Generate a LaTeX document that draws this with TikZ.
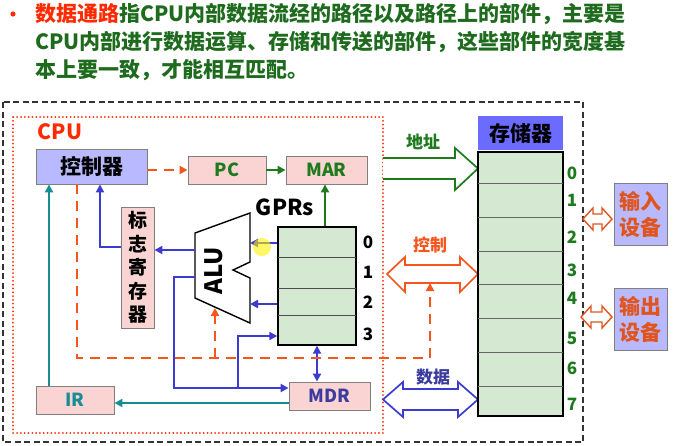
\documentclass[tikz,border=0pt]{standalone}
\usepackage{fontspec}
\setmainfont{Noto Sans CJK SC}
\usetikzlibrary{arrows.meta}
\definecolor{tgreen}{HTML}{1E6B1E}
\definecolor{cpured}{HTML}{FF2A00}
\definecolor{corange}{HTML}{F4561E}
\definecolor{ioorange}{HTML}{E0541E}
\definecolor{lblue}{HTML}{3B3BCF}
\definecolor{dblue}{HTML}{3C3C9E}
\definecolor{teal2}{HTML}{168C94}
\definecolor{agreen}{HTML}{1D7A1D}
\definecolor{pinkfill}{HTML}{FAD4D2}
\definecolor{lgreen}{HTML}{D4E8D2}
\definecolor{ctrlfill}{HTML}{B9B9FF}
\definecolor{memfill}{HTML}{6B6BFF}
\newcommand\myfs[1]{\fontsize{#1}{#1}\selectfont}
\begin{document}
\begin{tikzpicture}[x=1pt,y=-1pt,font=\bfseries,
  box/.style={draw=black!50, line width=0.9pt, inner sep=0pt},
  pinkbox/.style={box, fill=pinkfill, minimum height=28pt, font=\bfseries\myfs{18}},
  tip/.style={-{Triangle[length=8pt,width=8pt]}},
  conn/.style={line width=2.6pt, tip},
  bl/.style={conn, draw=lblue},
  tl/.style={conn, draw=teal2},
  gl/.style={conn, draw=agreen},
  od/.style={conn, draw=corange, dash pattern=on 10pt off 7pt},
  bus/.style={line width=1.7pt, fill=white, line join=miter},
  lab/.style={font=\bfseries\myfs{17}, inner sep=0pt},
  title/.style={anchor=west, inner sep=0pt, text=tgreen, font=\bfseries\myfs{21}}
]
\useasboundingbox (0,0) rectangle (693,445);

% title
\fill[cpured] (13,14) circle (2.6) coordinate (bul);
\node[title] (t1) at (35,14) {\textcolor{cpured}{数据通路}指CPU内部数据流经的路径以及路径上的部件，主要是};
\node[title] (t2) at (35,42) {CPU内部进行数据运算、存储和传送的部件，这些部件的宽度基};
\node[title] (t3) at (35,70) {本上要一致，才能相互匹配。};

% frames
\draw[black!80, line width=1.1pt, dash pattern=on 6pt off 3.5pt] (3,102) rectangle (583,442);
\draw[cpured, line width=2pt, dash pattern=on 0.01pt off 3.8pt, line cap=round] (13,117) rectangle (383,433);
\node[text=cpured, font=\bfseries\myfs{21}, inner sep=0pt] (cpu) at (60,132) {CPU};

% boxes
\node[box, fill=ctrlfill, minimum width=111pt, minimum height=35pt, font=\bfseries\myfs{21}] (ctrl) at (91.5,166.5) {控制器};
\node[pinkbox, minimum width=78pt, text=agreen] (pc) at (227,170) {PC};
\node[pinkbox, minimum width=81pt, text=agreen] (mar) at (326.5,170) {MAR};
\node[box, fill=pinkfill, minimum width=33pt, minimum height=121pt, align=center, font=\bfseries\fontsize{19}{23.5}\selectfont] (flag) at (137.5,267.5) {标\\志\\寄\\存\\器};
\node[pinkbox, minimum width=78pt, text=teal2] (ir) at (75,400) {IR};
\node[pinkbox, minimum width=81pt, text=dblue] (mdr) at (329.5,396) {MDR};

% GPRs
\node[draw=black, line width=1.4pt, fill=lgreen, minimum width=78pt, minimum height=118pt, inner sep=0pt] (gpr) at (317,286) {};
\foreach \yy in {257,288,315} \draw[black!70, line width=0.8pt] (278,\yy) -- (356,\yy);
\node[font=\bfseries\myfs{22}, inner sep=0pt] (gprl) at (285,207) {GPRs};
\foreach \n/\yy in {0/242,1/272,2/302,3/334} \node[lab] (g\n) at (368,\yy) {\n};

% ALU
\coordinate (a1) at (195,233);
\coordinate (a2) at (250,213);
\coordinate (a3) at (250,262);
\coordinate (a4) at (233,270);
\coordinate (a5) at (250,278);
\coordinate (a6) at (250,323);
\coordinate (a7) at (195,298);
\draw[line width=1.4pt, fill=white, line join=miter] (a1)--(a2)--(a3)--(a4)--(a5)--(a6)--(a7)--cycle;
\node[rotate=90, font=\bfseries\myfs{24}, inner sep=0pt] (alu) at (214,271) {ALU};

% memory
\node[fill=memfill, minimum width=85pt, minimum height=34pt, inner sep=0pt, font=\bfseries\myfs{21}] (meml) at (520.5,133) {存储器};

% buses (drawn before memory)
\draw[bus, draw=agreen] (383,158) -- (455,158) -- (455,148) -- (478,168.5) -- (455,190) -- (455,179) -- (383,179);
\node[lab, text=agreen] (addr) at (423,142) {地址};
\draw[bus, draw=corange] (387,274) -- (405,257) -- (405,265) -- (460,265) -- (460,257) -- (478,274) -- (460,292) -- (460,283) -- (405,283) -- (405,292) -- cycle;
\node[lab, text=corange] (ctl) at (430,245) {控制};
\draw[bus, draw=lblue] (383,399.5) -- (403,382) -- (403,389) -- (458,389) -- (458,382) -- (478,399.5) -- (458,417) -- (458,410) -- (403,410) -- (403,417) -- cycle;
\node[lab, text=dblue] (dat) at (433,377) {数据};

\node[draw=black, line width=1.8pt, fill=lgreen, minimum width=85pt, minimum height=264pt, inner sep=0pt] (mem) at (520.5,284) {};
\foreach \yy in {183,217,251,284,318,352,386} \draw[black!60, line width=0.8pt] (478,\yy) -- (563,\yy);
\foreach \n/\yy in {0/173,1/200,2/237,3/270,4/298,5/338,6/368,7/404} \node[lab, text=agreen] (m\n) at (572,\yy) {\n};

% IO devices
\node[box, fill=ctrlfill, minimum width=53pt, minimum height=62pt, align=center, text=ioorange, font=\bfseries\fontsize{21}{26}\selectfont] (inp) at (640.5,214) {输入\\设备};
\node[box, fill=ctrlfill, minimum width=53pt, minimum height=62pt, align=center, text=ioorange, font=\bfseries\fontsize{21}{26}\selectfont] (outp) at (640.5,319) {输出\\设备};
\draw[line width=1.4pt, draw=ioorange, fill=white] (583,219) -- (593,208) -- (593,214) -- (602,214) -- (602,208) -- (612,219) -- (602,230) -- (602,224) -- (593,224) -- (593,230) -- cycle;
\draw[line width=1.4pt, draw=ioorange, fill=white] (581,317) -- (591,306) -- (591,312) -- (602,312) -- (602,306) -- (612,317) -- (602,328) -- (602,322) -- (591,322) -- (591,328) -- cycle;

% connectors
\draw[od] (ctrl.east |- pc.west) -- (pc.west);
\draw[gl] (pc) -- (mar);
\draw[gl] (mar.south |- gpr.north) ++(-1.5,0) coordinate (gtop) -- (gtop |- mar.south);
\coordinate (r0) at (250,243);
\draw[bl] (gpr.west |- r0) -- (r0);
\coordinate (r2) at (250,304);
\draw[bl] (gpr.west |- r2) -- (r2);
\coordinate (aluf) at (195,250);
\draw[bl] (aluf) -- (aluf -| flag.east);
\coordinate (fl) at (100,247);
\draw[bl] (flag.west |- fl) -- (fl) -- (fl |- ctrl.south);
\coordinate (irx) at (49,0);
\draw[tl] (ir.north -| irx) -- (irx |- ctrl.south);
\draw[tl] (mdr.west |- 0,403) -- (ir.east |- 0,403);
\coordinate (alo) at (195,277);
\coordinate (c1) at (174,277);
\coordinate (c2) at (174,388);
\draw[bl] (alo) -- (c1) -- (c2) -- (c2 -| mdr.west);
\coordinate (c3) at (238,388);
\coordinate (c4) at (238,336);
\draw[bl] (c3) -- (c4) -- (c4 -| gpr.west);
\draw[line width=2.6pt, draw=lblue, {Triangle[length=8pt,width=8pt]}-{Triangle[length=8pt,width=8pt]}] (gpr.south) -- (gpr.south |- mdr.north);
\coordinate (o1) at (77,358);
\coordinate (o2) at (430,358);
\draw[od] (o1 |- ctrl.south) -- (o1) -- (o2) -- (430,283);
\coordinate (o3) at (215,358);
\draw[od] (o3) -- (215,308);

% pointer highlight
\fill[yellow, opacity=0.6] (262,247) circle (9);
\end{tikzpicture}
\end{document}
